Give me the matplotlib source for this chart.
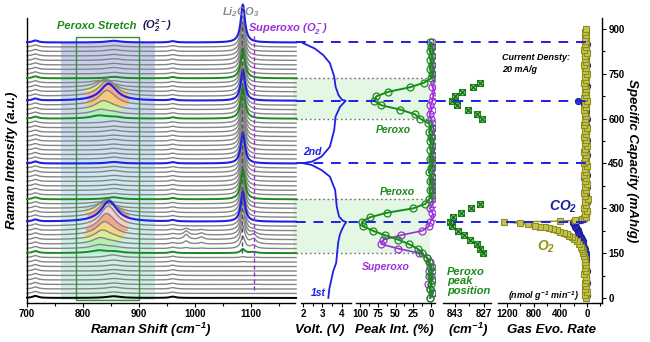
import numpy as np
import matplotlib.pyplot as plt
from matplotlib.colors import LinearSegmentedColormap
from matplotlib.patches import Rectangle
from matplotlib.ticker import MultipleLocator, FixedLocator

plt.rcParams['font.family'] = ['Liberation Sans', 'DejaVu Sans']
plt.rcParams['font.weight'] = 'bold'
plt.rcParams['mathtext.fontset'] = 'custom'
for k in ['rm', 'it', 'bf', 'sf']:
    plt.rcParams['mathtext.' + k] = 'Liberation Sans:italic:bold'

# ---- data ----
# capacity (mAh/g) at which each Raman spectrum was taken
cap_spec = [0, 15, 30, 45, 60, 75, 90, 105, 120, 135,
            150, 165, 180, 195, 210, 225, 240, 255, 270, 285,
            300, 315, 330, 345, 360, 375, 390, 405, 420, 435,
            450, 465, 480, 495, 510, 525, 540, 555, 570, 585,
            600, 615, 630, 645, 660, 675, 690, 705, 720, 735,
            750, 765, 780, 795, 810, 825, 840, 855]
# normalised peak intensities (%)
peroxo = [1, -2, 2, 0, -1, 3, -2, 1, 3, 6,
          13, 19, 31, 46, 65, 82, 96, 97, 86, 62,
          25, 8, 3, -1, 2, -2, 1, -1, 3, 0,
          -2, 2, -1, 1, -3, 2, 0, 3, -1, 4,
          15, 23, 43, 70, 80, 77, 60, 30, 10, 0,
          -2, 2, -1, 1, -2, 2, 0, 1]
superoxo = [2, -3, 1, 4, -2, 0, 3, -1, 2, 5,
            17, 46, 70, 67, 42, 12, 3, 1, -4, -2,
            2, -3, -1, -4, -2, -5, -1, -3, -6, -2,
            -4, -1, -3, -5, -2, -4, -1, -6, -3, -2,
            0, 2, -1, 1, -2, -3, -5, -2, -4, -6,
            -3, -5, -2, -4, -1, -3, -2, -1]
# Li2CO3 band height (px) in each spectrum
li2co3 = [0, 0, 0, 0, 0, 0, 0, 0, 0.5, 1,
          4, 12, 18, 22, 25, 27, 28, 30, 29, 30,
          31, 29, 30, 31, 30, 29, 31, 30, 32, 30,
          31, 30, 29, 31, 30, 32, 30, 31, 29, 30,
          31, 30, 32, 30, 31, 29, 30, 32, 31, 30,
          29, 31, 30, 32, 31, 30, 31, 38]
# extra bands near 985 / 1010 cm-1 during first step
band_caps = [165, 180, 195, 210, 225]
h985 = [1, 3, 5, 4, 2]
h1010 = [0.5, 1.5, 2.5, 2, 1]

blue_caps = [255, 450, 660, 855]
green_caps = [150, 330, 600, 735]

# peroxo peak position (cm-1)
pos_cap1 = [150, 165, 180, 195, 210, 225, 240, 255, 270, 285, 300, 315]
pos1 = [827.5, 829, 831, 834.5, 838, 841.5, 844.5, 845.8, 844, 839.5, 834, 829]
pos_cap2 = [600, 615, 630, 645, 660, 675, 690, 705, 720]
pos2 = [828, 831, 836, 842, 844.5, 843, 839, 833, 829]

# voltage profile
volt_cap = [0, 30, 60, 90, 117, 150, 184, 210, 227, 245, 254,
            258, 272, 306, 361, 406, 428, 445, 451,
            456, 473, 506, 562, 607, 640, 660,
            663, 679, 707, 741, 786, 813, 835, 853]
volt = [3.3, 3.35, 3.45, 3.55, 3.7, 3.75, 3.8, 3.88, 3.98, 4.12, 4.22,
        4.05, 3.85, 3.73, 3.65, 3.38, 2.95, 2.45, 2.0,
        2.45, 2.95, 3.38, 3.6, 3.67, 3.9, 4.19,
        4.0, 3.82, 3.67, 3.6, 3.38, 3.04, 2.6, 2.0]

# gas evolution (nmol g-1 min-1)
gas_cap_low = list(range(0, 150, 10))
o2_low = [10, 25, 5, 30, 15, 35, 10, 20, 40, 15, 25, 20, 30, 25, 40]
co2_low = [15, 5, 25, 10, 30, 0, 20, 10, 25, 5, 15, 30, 10, 20, 15]
gas_cap_mid = [150, 157, 164, 172, 180, 189, 196, 203, 208, 213, 218, 222, 226,
               230, 233, 236, 239, 242, 246, 250, 254, 257, 260, 263, 266]
o2_mid = [55, 65, 80, 95, 120, 155, 190, 230, 265, 305, 350, 405, 455,
          505, 565, 630, 700, 780, 880, 1005, 1240, 405, 180, 80, 45]
co2_mid = [20, 25, 35, 45, 55, 65, 80, 95, 105, 115, 125, 135, 140,
           150, 160, 170, 175, 185, 195, 205, 215, 150, 90, 50, 30]
gas_cap_high = list(range(270, 901, 10))
o2_high = [20, 35, 5, 40, 15, 30, -10, 25, 45, 10,
           30, 0, 35, 20, 50, 15, 25, -5, 40, 20,
           30, 10, 45, 25, 0, 35, 15, 40, 20, 30,
           5, 45, 25, 35, 10, 30, 50, 15, 25, 0,
           40, 20, 35, 10, 30, 45, 15, 25, 5, 35,
           20, 40, 10, 30, 25, 0, 45, 20, 35, 15,
           30, 10, 25, 20]
co2_high = [10, 25, 0, 30, 15, 5, 35, 20, 10, 25,
            0, 30, 15, 40, 5, 20, 30, 10, 25, 15,
            35, 0, 20, 30, 10, 25, 5, 40, 15, 20,
            30, 10, 25, 0, 35, 15, 20, 30, 50, 130,
            25, 10, 30, 20, 5, 35, 15, 25, 10, 30,
            20, 0, 35, 15, 25, 10, 30, 20, 5, 25,
            15, 30, 10, 20]

gas_cap = gas_cap_low + gas_cap_mid + gas_cap_high
o2 = o2_low + o2_mid + o2_high
co2 = co2_low + co2_mid + co2_high

# ---- colours ----
BLUE = '#1f1fe6'
GREEN = '#1a8a1a'
PURPLE = '#9b30d9'
OLIVE = '#8f8f14'
NAVY = '#1c1ca0'
GRAY = '#858585'

fig = plt.figure(figsize=(6.5, 3.42), dpi=100)
B, T = 1 - 303 / 342, 1 - 18 / 342
H = T - B
YL = (-17, 937)
PX = (YL[1] - YL[0]) / 285.0  # capacity units per pixel


def rect(x0, x1):
    return [x0 / 650, B, (x1 - x0) / 650, H]


# background overlay (bands, dotted lines)
ax_bg = fig.add_axes(rect(292, 604))
ax_bg.set_xlim(292, 604)
ax_bg.set_ylim(*YL)
ax_bg.axis('off')
ax_bg.fill_between([293, 430], 600, 735, color='#e4f6e4', lw=0)
ax_bg.fill_between([293, 430], 150, 330, color='#e4f6e4', lw=0)
ax_bg.hlines(green_caps, 296, 428, colors='#707070', linestyles=(0, (1.2, 2)), lw=1)

ax_main = fig.add_axes(rect(27, 295))
ax_v = fig.add_axes(rect(301, 351))
ax_p = fig.add_axes(rect(356, 435))
ax_pos = fig.add_axes(rect(443, 491))
ax_g = fig.add_axes(rect(498, 602))

ax_top = fig.add_axes(rect(292, 604))
ax_top.set_xlim(292, 604)
ax_top.set_ylim(*YL)
ax_top.axis('off')
ax_top.hlines(blue_caps, 296, 590, colors=BLUE, linestyles=(0, (5, 4)), lw=1.4)

for ax in [ax_main, ax_v, ax_p, ax_pos, ax_g]:
    ax.set_facecolor('none')
    ax.set_ylim(*YL)
    for s in ['top', 'right', 'left']:
        ax.spines[s].set_visible(False)
    ax.spines['bottom'].set_linewidth(1.0)
    ax.set_yticks([])
    ax.tick_params(axis='x', which='major', labelsize=7, length=3, width=0.8, pad=1.5)
    ax.tick_params(axis='x', which='minor', length=2, width=0.8)

# ---- Raman waterfall ----
shift = np.arange(700, 1181, 1.0)


def lor(x0, h, w):
    return h * w ** 2 / ((shift - x0) ** 2 + w ** 2)


pos_lookup = dict(zip(pos_cap1 + pos_cap2, pos1 + pos2))
fill_cmap = LinearSegmentedColormap.from_list(
    'fill', [(0, '#a6eef0'), (0.35, '#b6f0a6'), (0.55, '#f0f08a'),
             (0.72, '#f7c27c'), (0.86, '#f29a9a'), (1.0, '#f4e4e4')])

bg_cmap = LinearSegmentedColormap.from_list('bg', ['#c6f0dc', '#c4e4f2', '#bcc4ea'])
ax_main.imshow(np.linspace(0, 1, 100).reshape(-1, 1), extent=[760, 926, -7, 856],
               origin='lower', aspect='auto', cmap=bg_cmap, alpha=0.85, zorder=0.5)

curves = []
for i, c in enumerate(cap_spec):
    p0 = pos_lookup.get(c, 850)
    sig = (lor(715, 2, 6) + lor(855, 1.5, 14) + lor(960, 1.3, 6)
           + lor(p0, max(peroxo[i], 0) * 0.2, 17)
           + lor(1085, li2co3[i], 4.5)
           + lor(1104, max(superoxo[i], 0) * 0.07, 6))
    if c in band_caps:
        j = band_caps.index(c)
        sig = sig + lor(984, h985[j], 5) + lor(1011, h1010[j], 5)
    curves.append(c + sig * PX)

# coloured fills under the peroxo band
for i in reversed(range(len(cap_spec))):
    if peroxo[i] > 10:
        p0 = pos_lookup.get(cap_spec[i], 850)
        m = np.abs(shift - p0) < 38
        ax_main.fill_between(shift[m], cap_spec[i], curves[i][m],
                             color=fill_cmap(peroxo[i] / 100), lw=0, zorder=1)

for i, c in enumerate(cap_spec):
    if c in blue_caps:
        col, lw, z = BLUE, 1.5, 3
    elif c in green_caps:
        col, lw, z = GREEN, 1.4, 3
    elif c == 0:
        col, lw, z = 'black', 1.4, 3
    else:
        col, lw, z = GRAY, 1.0, 2
    ax_main.plot(shift, curves[i], color=col, lw=lw, zorder=z, clip_on=False)

ax_main.add_patch(Rectangle((788, -7), 111, 880, fill=False, ec='#3c8c3c', lw=1, zorder=2.5))
ax_main.vlines(1083, 150, 925, colors='#505050', linestyles=(0, (3, 2)), lw=1, zorder=4)
ax_main.vlines(1104, 25, 880, colors=PURPLE, linestyles=(0, (3, 2)), lw=1, zorder=4)

ax_main.set_xlim(700, 1178)
ax_main.set_ylim(*YL)
ax_main.spines['left'].set_visible(True)
ax_main.spines['left'].set_linewidth(1.0)
ax_main.xaxis.set_major_locator(FixedLocator([700, 800, 900, 1000, 1100]))
ax_main.xaxis.set_minor_locator(MultipleLocator(50))

# ---- voltage ----
ax_v.plot(volt, volt_cap, color=BLUE, lw=1.3)
ax_v.set_xlim(1.9, 4.46)
ax_v.set_xticks([2, 3, 4])
ax_v.xaxis.set_minor_locator(MultipleLocator(0.5))

# ---- peak intensity ----
ax_p.plot(superoxo, cap_spec, '-o', color=PURPLE, mfc='none', ms=5, mew=0.9, lw=1.2)
ax_p.plot(peroxo, cap_spec, '-o', color=GREEN, mfc='none', ms=5, mew=0.9, lw=1.4)
ax_p.set_xlim(105.6, -5.6)
ax_p.set_xticks([100, 75, 50, 25, 0])
ax_p.xaxis.set_minor_locator(MultipleLocator(12.5))

# ---- peak position ----
for caps, vals in [(pos_cap1, pos1), (pos_cap2, pos2)]:
    ax_pos.plot(vals, caps, 's', ms=5, mfc='#7ccf7c', mec=GREEN, mew=0.8)
    ax_pos.plot(vals, caps, 'x', ms=4, mec='#0f5f0f', mew=0.8)
ax_pos.set_xlim(849.6, 823.1)
ax_pos.set_xticks([843, 827])
ax_pos.xaxis.set_minor_locator(FixedLocator([835]))

# ---- gas evolution ----
ax_g.plot(co2, gas_cap, '--o', color=NAVY, mfc='#3a3ab8', mec=NAVY, ms=4.5, mew=0.7, lw=1)
ax_g.plot(o2, gas_cap, '-s', color=OLIVE, mfc='#c2c25a', mec=OLIVE, ms=4, mew=0.8, lw=1)
ax_g.set_xlim(1335, -225)
ax_g.set_xticks([1200, 800, 400, 0])
ax_g.xaxis.set_minor_locator(MultipleLocator(200))
ax_g.spines['right'].set_visible(True)
ax_g.spines['right'].set_linewidth(1.0)
ax_g.yaxis.tick_right()
ax_g.set_yticks([0, 150, 300, 450, 600, 750, 900])
ax_g.yaxis.set_minor_locator(MultipleLocator(75))
ax_g.tick_params(axis='y', which='major', labelsize=7, length=3, width=0.8, pad=1.5)
ax_g.tick_params(axis='y', which='minor', length=2, width=0.8)
ax_g.set_ylim(*YL)

# ---- text ----
tk = dict(fontweight='bold', fontstyle='italic')
fig.text(0.018, 0.53, 'Raman Intensity (a.u.)', rotation=90, ha='center', va='center', fontsize=9.5, **tk)
fig.text(0.232, 0.035, 'Raman Shift (cm$^{-1}$)', ha='center', va='center', fontsize=9.5, **tk)
fig.text(0.492, 0.035, 'Volt. (V)', ha='center', va='center', fontsize=9.5, **tk)
fig.text(0.607, 0.035, 'Peak Int. (%)', ha='center', va='center', fontsize=9.5, **tk)
fig.text(0.72, 0.035, '(cm$^{-1}$)', ha='center', va='center', fontsize=9.5, **tk)
fig.text(0.848, 0.035, 'Gas Evo. Rate', ha='center', va='center', fontsize=9.5, **tk)
fig.text(0.972, 0.53, 'Specific Capacity (mAh/g)', rotation=270, ha='center', va='center', fontsize=9.5, **tk)

fig.text(0.088, 0.916, 'Peroxo Stretch', color=GREEN, ha='left', va='baseline', fontsize=8, **tk)
fig.text(0.219, 0.916, '(O$_2^{2-}$)', color='#1a1a50', ha='left', va='baseline', fontsize=8, **tk)
fig.text(0.37, 0.965, 'Li$_2$CO$_3$', color='#8a8a8a', ha='center', va='center', fontsize=8, **tk)
fig.text(0.382, 0.908, 'Superoxo (O$_2^-$)', color=PURPLE, ha='left', va='baseline', fontsize=8, **tk)

fig.text(0.48, 0.555, '2nd', color=BLUE, ha='center', va='center', fontsize=7.5, **tk)
fig.text(0.49, 0.143, '1st', color=BLUE, ha='center', va='center', fontsize=7.5, **tk)
fig.text(0.605, 0.62, 'Peroxo', color=GREEN, ha='center', va='center', fontsize=7.5, **tk)
fig.text(0.612, 0.44, 'Peroxo', color=GREEN, ha='center', va='center', fontsize=7.5, **tk)
fig.text(0.594, 0.22, 'Superoxo', color=PURPLE, ha='center', va='center', fontsize=7.5, **tk)
fig.text(0.688, 0.178, 'Peroxo\npeak\nposition', color=GREEN, ha='left', va='center',
         fontsize=8, linespacing=0.95, **tk)
fig.text(0.772, 0.815, 'Current Densty:\n20 mA/g', ha='left', va='center', fontsize=6.5,
         linespacing=1.5, **tk)
fig.text(0.866, 0.395, 'CO$_2$', color=NAVY, ha='center', va='center', fontsize=10, **tk)
fig.text(0.84, 0.278, 'O$_2$', color=OLIVE, ha='center', va='center', fontsize=10, **tk)
fig.text(0.836, 0.135, '(nmol g$^{-1}$ min$^{-1}$)', ha='center', va='center', fontsize=6.5, **tk)

fig.savefig('out.png', dpi=100)
